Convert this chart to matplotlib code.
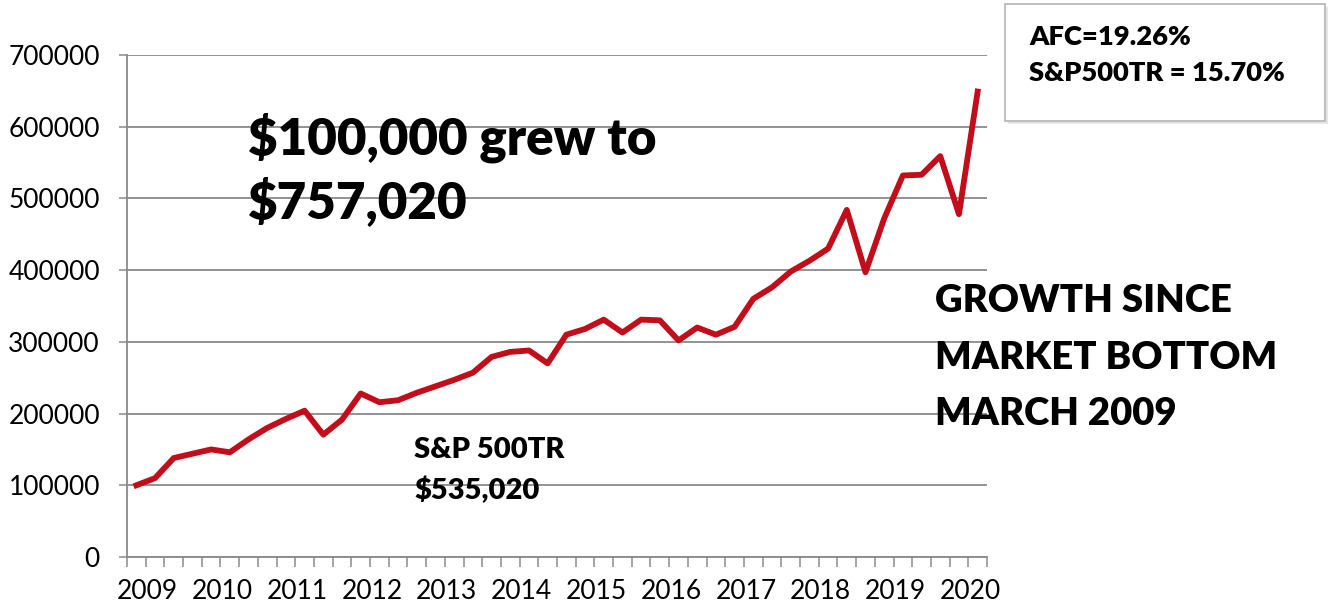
import matplotlib
matplotlib.use('Agg')
import matplotlib.pyplot as plt
from matplotlib.patches import Rectangle

plt.rcParams['font.family'] = ['Lato', 'DejaVu Sans']

# quarterly portfolio value, March 2009 .. June 2020
values = [100000, 110000, 138000, 144000, 150000, 146000, 164000, 180000, 192600, 204000,
          170600, 191600, 228000, 215800, 218600, 229000, 238000, 247000, 257000, 279000,
          286000, 288000, 270000, 310000, 318000, 331000, 313000, 331000, 330000, 302000,
          320000, 310000, 321000, 360000, 376000, 398000, 413000, 430000, 484000, 397000,
          472000, 532000, 533000, 559000, 478000, 649000]
years = [str(y) for y in range(2009, 2021)]
yticks = [0, 100000, 200000, 300000, 400000, 500000, 600000, 700000]

W, H = 1331, 606
fig = plt.figure(figsize=(W / 100, H / 100), dpi=100)


def fx(x):
    return x / W


def fy(y):
    return 1 - y / H


ax = fig.add_axes([fx(127), fy(557), fx(987) - fx(127), fy(55) - fy(557)])
grey = '#8a8a8a'

x = list(range(len(values)))
ax.plot(x, values, color='#c20d1a', lw=4.2, zorder=3)

ax.set_xlim(-0.5, len(values) - 0.5)
ax.set_ylim(0, 700000)
ax.set_yticks(yticks)
ax.set_yticklabels([str(v) for v in yticks])
ax.set_xticks([4 * i + 0.6 for i in range(len(years))])
ax.set_xticklabels(years)
ax.set_xticks([i - 0.5 for i in range(len(values) + 1)], minor=True)
ax.tick_params(axis='x', which='major', length=0, pad=16, labelsize=19)
ax.tick_params(axis='x', which='minor', length=7, width=1.1, color=grey, direction='out')
ax.tick_params(axis='y', length=6, width=1.1, color=grey, pad=13.5, labelsize=19)

ax.grid(axis='y', color=grey, lw=1.3)
ax.set_axisbelow(True)
for s in ['top', 'right']:
    ax.spines[s].set_visible(False)
for s in ['left', 'bottom']:
    ax.spines[s].set_color(grey)
    ax.spines[s].set_linewidth(1.3)

wt = 'heavy'
fig.text(fx(248), fy(155), '$100,000 grew to', fontsize=36.8, fontweight=wt, va='baseline')
fig.text(fx(248), fy(218), '$757,020', fontsize=36.8, fontweight=wt, va='baseline')
fig.text(fx(414), fy(458), 'S&P 500TR', fontsize=21, fontweight=wt, va='baseline')
fig.text(fx(414), fy(499), '$535,020', fontsize=21, fontweight=wt, va='baseline')
for i, line in enumerate(['GROWTH SINCE', 'MARKET BOTTOM', 'MARCH 2009']):
    fig.text(fx(935), fy(312 + 56.7 * i), line, fontsize=27.5, fontweight=wt, va='baseline')

fig.patches.append(Rectangle((fx(1008), fy(124)), fx(1328) - fx(1008), fy(7) - fy(124),
                             transform=fig.transFigure, facecolor='#e6e6e6', edgecolor='none'))
fig.patches.append(Rectangle((fx(1005), fy(121)), fx(1325) - fx(1005), fy(4) - fy(121),
                             transform=fig.transFigure, facecolor='white', edgecolor='#b4b4b4', lw=1.2))
fig.text(fx(1029), fy(45), 'AFC=19.26%', fontsize=19.7, fontweight=wt, va='baseline')
fig.text(fx(1029), fy(81), 'S&P500TR = 15.70%', fontsize=19.7, fontweight=wt, va='baseline')

fig.savefig('out.png', dpi=100)
